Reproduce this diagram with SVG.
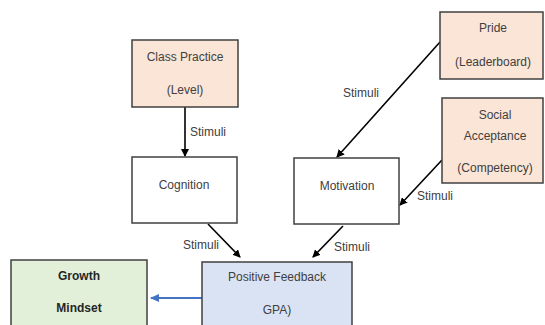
<svg xmlns="http://www.w3.org/2000/svg" width="545" height="325" viewBox="0 0 545 325">
<style>
.box{stroke:#404040;stroke-width:1.5}
.peach{fill:#FBE5D6}
.white{fill:#FFFFFF}
.blue{fill:#DAE3F3}
.green{fill:#E2F0D9}
text{font-family:"Liberation Sans",Arial,sans-serif;font-size:12px;fill:#404040;text-anchor:middle;dominant-baseline:central}
.b{font-weight:bold;fill:#262626}
.lbl{text-anchor:start}
.conn{stroke:#000;stroke-width:1.6;fill:none}
.bl{stroke:#4472C4;stroke-width:2;fill:none}
</style>
<defs>
<marker id="ah" markerWidth="8" markerHeight="8" refX="7" refY="4" orient="auto" markerUnits="userSpaceOnUse"><path d="M0,0 L8,4 L0,8 Z" fill="#000"/></marker>
<marker id="ahb" markerWidth="9" markerHeight="8" refX="8" refY="4" orient="auto" markerUnits="userSpaceOnUse"><path d="M0,0 L9,4 L0,8 Z" fill="#4472C4"/></marker>
</defs>
<rect width="545" height="325" fill="#fff"/>
<g id="connectors">
<line class="conn" x1="185" y1="107" x2="185" y2="156" marker-end="url(#ah)"/>
<line class="conn" x1="440" y1="42" x2="337" y2="157" marker-end="url(#ah)"/>
<line class="conn" x1="442" y1="160" x2="400" y2="205" marker-end="url(#ah)"/>
<line class="conn" x1="208" y1="224" x2="240" y2="257" marker-end="url(#ah)"/>
<line class="conn" x1="343" y1="226" x2="313" y2="257" marker-end="url(#ah)"/>
<line class="bl" x1="202" y1="298" x2="151" y2="298" marker-end="url(#ahb)"/>
<text class="lbl" x="190" y="132">Stimuli</text>
<text class="lbl" x="343" y="93">Stimuli</text>
<text class="lbl" x="417" y="196">Stimuli</text>
<text class="lbl" x="183" y="245">Stimuli</text>
<text class="lbl" x="334" y="247">Stimuli</text>
</g>
<g id="class-practice">
<rect class="box peach" x="132" y="40" width="106" height="67"/>
<text x="185" y="57">Class Practice</text>
<text x="185" y="90">(Level)</text>
</g>
<g id="pride">
<rect class="box peach" x="440" y="12" width="103" height="67"/>
<text x="493" y="28">Pride</text>
<text x="493" y="62">(Leaderboard)</text>
</g>
<g id="social-acceptance">
<rect class="box peach" x="442" y="98" width="101" height="85"/>
<text x="495" y="115">Social</text>
<text x="495" y="136">Acceptance</text>
<text x="495" y="168">(Competency)</text>
</g>
<g id="cognition">
<rect class="box white" x="132" y="157" width="105" height="66"/>
<text x="184" y="185">Cognition</text>
</g>
<g id="motivation">
<rect class="box white" x="294" y="158" width="105" height="66"/>
<text x="347" y="186">Motivation</text>
</g>
<g id="positive-feedback">
<rect class="box blue" x="202" y="262" width="150" height="70"/>
<text x="277" y="277">Positive Feedback</text>
<text x="277" y="310">GPA)</text>
</g>
<g id="growth-mindset">
<rect class="box green" x="11" y="260" width="136" height="72"/>
<text class="b" x="79" y="276">Growth</text>
<text class="b" x="79" y="308">Mindset</text>
</g>
</svg>
